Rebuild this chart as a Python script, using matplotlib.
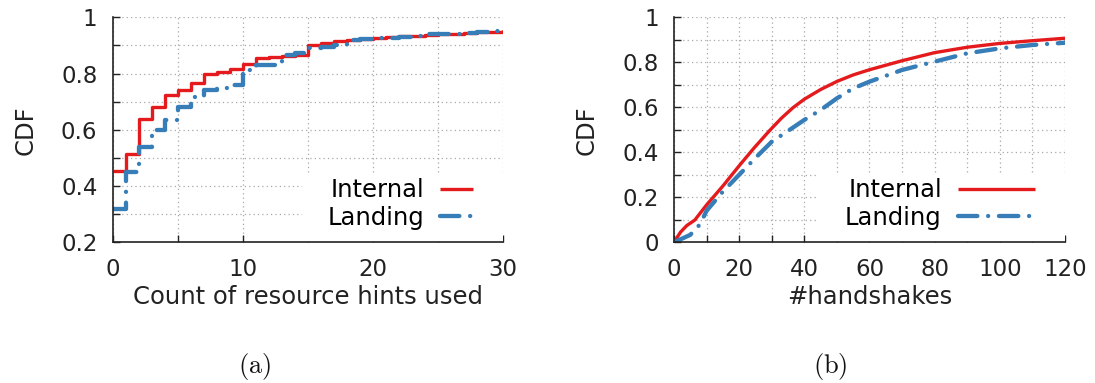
import numpy as np
import matplotlib
matplotlib.use("Agg")
import matplotlib.pyplot as plt
from matplotlib.ticker import MultipleLocator
from matplotlib.patches import Rectangle

# ---- data -------------------------------------------------------------
# (a) CDF of resource-hint counts, value of P(X <= k) for k = 0..30
hint_counts = list(range(31))
hints_internal = [0.454, 0.514, 0.637, 0.680, 0.724, 0.743, 0.768, 0.797, 0.807, 0.815,
                  0.834, 0.857, 0.858, 0.862, 0.866, 0.901, 0.907, 0.915, 0.919, 0.924,
                  0.928, 0.930, 0.932, 0.934, 0.937, 0.939, 0.941, 0.943, 0.946, 0.949,
                  0.955]
hints_landing = [0.317, 0.449, 0.540, 0.601, 0.636, 0.680, 0.717, 0.742, 0.750, 0.759,
                 0.811, 0.830, 0.832, 0.866, 0.872, 0.890, 0.893, 0.901, 0.919, 0.922,
                 0.927, 0.928, 0.930, 0.935, 0.939, 0.940, 0.942, 0.944, 0.946, 0.950,
                 0.953]

# (b) CDF of number of handshakes
hs_internal_x = [0, 2, 3.9, 6.4, 10, 15, 20, 24.5, 29.5, 33, 36.5, 40, 45, 50, 55, 60, 70,
                 80, 90, 100, 110, 120]
hs_internal_y = [0, 0.045, 0.074, 0.099, 0.166, 0.25, 0.34, 0.418, 0.499, 0.552, 0.598,
                 0.636, 0.679, 0.715, 0.744, 0.767, 0.807, 0.843, 0.867, 0.884, 0.896,
                 0.907]
hs_landing_x = [0, 5, 8, 10, 15, 20, 25, 30, 35, 40, 45, 50, 55, 60, 70, 80, 90, 100,
                110, 120]
hs_landing_y = [0, 0.033, 0.08, 0.14, 0.225, 0.30, 0.375, 0.447, 0.495, 0.544, 0.588,
                0.64, 0.684, 0.714, 0.766, 0.803, 0.84, 0.862, 0.877, 0.887]

series_names = ["Internal", "Landing"]

# ---- style ------------------------------------------------------------
RED = "#e41a1c"
BLUE = "#377eb8"
TXT = "#222222"
FS_TICK = 16.5
FS_LABEL = 17.5
plt.rcParams["font.family"] = ["DejaVu Sans"]

red_kw = dict(color=RED, lw=2.4, solid_capstyle="butt", solid_joinstyle="round", zorder=3)
blue_kw = dict(color=BLUE, lw=3.1, linestyle=(0, (4.5, 2.5, 0.01, 2.5)),
               dash_capstyle="round", dash_joinstyle="round", zorder=3)

fig = plt.figure(figsize=(10.95, 3.83), dpi=100)
ax_a = fig.add_axes([0.1029, 0.3674, 0.3567, 0.5874])
ax_b = fig.add_axes([0.6155, 0.3674, 0.3571, 0.5874])


def style_axes(ax):
    for side in ("top", "right"):
        ax.spines[side].set_visible(False)
    for side in ("left", "bottom"):
        ax.spines[side].set_linewidth(1.2)
        ax.spines[side].set_color("#222222")
        ax.spines[side].set_zorder(4)
    ax.tick_params(which="both", direction="in", labelsize=FS_TICK, colors=TXT,
                   pad=11, width=1.0, length=5)
    ax.grid(True, which="both", color="#a8a8a8", lw=0.9, linestyle=(0, (1, 2.5)))
    ax.set_axisbelow(True)
    ax.set_ylabel("CDF", fontsize=FS_LABEL, color=TXT, labelpad=17)


def key_box(ax, x0, y1, bx, by, handlelength, pad):
    # white key area that hides the grid under the legend
    ax.add_patch(Rectangle((x0, 0), 1 - x0, y1, transform=ax.transAxes,
                           facecolor="white", edgecolor="none", zorder=1))
    ax.legend(loc="lower right", bbox_to_anchor=(bx, by), markerfirst=False,
              frameon=False, fontsize=FS_LABEL, handlelength=handlelength,
              handletextpad=pad, borderpad=0.0, borderaxespad=0.0, labelspacing=0.15)


# ---- (a) --------------------------------------------------------------
ax_a.step(hint_counts, hints_internal, where="post", label=series_names[0], **red_kw)
ax_a.step(hint_counts, hints_landing, where="post", label=series_names[1], **blue_kw)
ax_a.set_xlim(0, 30)
ax_a.set_ylim(0.2, 1.0)
ax_a.xaxis.set_major_locator(MultipleLocator(10))
ax_a.xaxis.set_minor_locator(MultipleLocator(5))
ax_a.yaxis.set_minor_locator(MultipleLocator(0.1))
style_axes(ax_a)
ax_a.set_yticks([0.2, 0.4, 0.6, 0.8, 1.0], ["0.2", "0.4", "0.6", "0.8", "1"])
ax_a.set_xlabel("Count of resource hints used", fontsize=FS_LABEL, color=TXT, labelpad=3)
key_box(ax_a, 0.485, 0.30, 0.922, 0.055, 1.36, 0.62)

# ---- (b) --------------------------------------------------------------
ax_b.plot(hs_internal_x, hs_internal_y, label=series_names[0], **red_kw)
ax_b.plot(hs_landing_x, hs_landing_y, label=series_names[1], **blue_kw)
ax_b.set_xlim(0, 120)
ax_b.set_ylim(0, 1.0)
ax_b.xaxis.set_major_locator(MultipleLocator(20))
ax_b.xaxis.set_minor_locator(MultipleLocator(10))
ax_b.yaxis.set_minor_locator(MultipleLocator(0.1))
style_axes(ax_b)
ax_b.set_yticks([0, 0.2, 0.4, 0.6, 0.8, 1.0], ["0", "0.2", "0.4", "0.6", "0.8", "1"])
ax_b.set_xlabel("#handshakes", fontsize=FS_LABEL, color=TXT, labelpad=3)
key_box(ax_b, 0.368, 0.308, 0.923, 0.055, 3.17, 0.66)

# ---- sub-captions ------------------------------------------------------
fig.text(0.2329, 0.042, r"$\mathrm{(a)}$", ha="center", va="center", fontsize=19,
         math_fontfamily="cm", color="#111111")
fig.text(0.7580, 0.042, r"$\mathrm{(b)}$", ha="center", va="center", fontsize=19,
         math_fontfamily="cm", color="#111111")

fig.savefig("out.png", dpi=100)
